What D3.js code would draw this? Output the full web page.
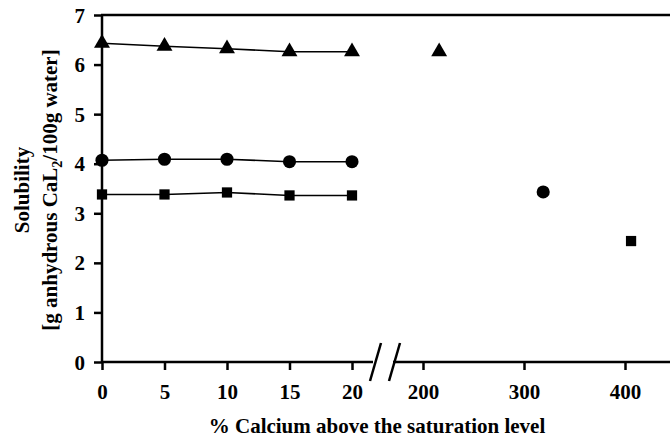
<!DOCTYPE html>
<html>
<head>
<meta charset="utf-8">
<script src="https://cdn.jsdelivr.net/npm/d3@7"></script>
<style>
  body { margin: 0; background: #fff; }
  text { font-family: "Liberation Serif", "Times New Roman", serif; font-weight: bold; fill: #000; }
</style>
</head>
<body>
<svg id="chart" width="670" height="440"></svg>
<script>
// low range of x (0-20 %), shown left of the axis break
var lowX = [0, 5, 10, 15, 20];
var triangleLow = [6.43, 6.37, 6.32, 6.26, 6.26];
var circleLow = [4.07, 4.09, 4.09, 4.04, 4.04];
var squareLow = [3.38, 3.38, 3.42, 3.36, 3.36];

// high range points, right of the break
var trianglesHigh = [{x: 216, y: 6.26}];
var circlesHigh = [{x: 319, y: 3.43}];
var squaresHigh = [{x: 406, y: 2.44}];

var lowTicks = [0, 5, 10, 15, 20];
var highTicks = [200, 300, 400];
var yTicks = [0, 1, 2, 3, 4, 5, 6, 7];

var svg = d3.select('#chart');

var yScale = d3.scaleLinear().domain([0, 7]).range([362, 15]);
var xLow = d3.scaleLinear().domain([0, 20]).range([102, 352]);
var xHigh = d3.scaleLinear().domain([200, 400]).range([423, 625]);

// top frame line
svg.append('line')
  .attr('x1', 101).attr('x2', 670)
  .attr('y1', yScale(7)).attr('y2', yScale(7))
  .attr('stroke', '#000').attr('stroke-width', 2.5);

// y axis
var yAxis = svg.append('g')
  .attr('transform', 'translate(102,0)')
  .call(d3.axisLeft(yScale).tickValues(yTicks).tickSize(8).tickPadding(9).tickFormat(d3.format('d')));
yAxis.select('.domain').attr('stroke-width', 2.5).attr('d', 'M0,' + yScale(0) + 'V' + yScale(7));
yAxis.selectAll('.tick line').attr('stroke-width', 2.5);
yAxis.selectAll('.tick text').style('font-size', '21px').attr('dy', '0.34em');

// x axis, low part
var xAxisLow = svg.append('g')
  .attr('transform', 'translate(0,' + yScale(0) + ')')
  .call(d3.axisBottom(xLow).tickValues(lowTicks).tickSize(8).tickPadding(14));
xAxisLow.select('.domain').attr('stroke-width', 2.5).attr('d', 'M' + xLow(0) + ',0H373');
xAxisLow.selectAll('.tick line').attr('stroke-width', 2.5);
xAxisLow.selectAll('.tick text').style('font-size', '21px');

// x axis, high part
var xAxisHigh = svg.append('g')
  .attr('transform', 'translate(0,' + yScale(0) + ')')
  .call(d3.axisBottom(xHigh).tickValues(highTicks).tickSize(8).tickPadding(14));
xAxisHigh.select('.domain').attr('stroke-width', 2.5).attr('d', 'M393,0H670');
xAxisHigh.selectAll('.tick line').attr('stroke-width', 2.5);
xAxisHigh.selectAll('.tick text').style('font-size', '21px');

// break marks
svg.selectAll('.brk')
  .data([370, 389])
  .enter().append('line')
  .attr('class', 'brk')
  .attr('x1', function(d) { return d; })
  .attr('y1', yScale(0) + 19)
  .attr('x2', function(d) { return d + 11; })
  .attr('y2', yScale(0) - 19)
  .attr('stroke', '#000').attr('stroke-width', 2.5);

// lines for the low range
var line = d3.line()
  .x(function(d, i) { return xLow(lowX[i]); })
  .y(function(d) { return yScale(d); });

[triangleLow, circleLow, squareLow].forEach(function(s) {
  svg.append('path')
    .attr('d', line(s))
    .attr('fill', 'none')
    .attr('stroke', '#000')
    .attr('stroke-width', 1.6);
});

function drawMarks(pts, type, size) {
  svg.selectAll(null)
    .data(pts)
    .enter().append('path')
    .attr('transform', function(d) { return 'translate(' + d.px + ',' + d.py + ')'; })
    .attr('d', d3.symbol().type(type).size(size))
    .attr('fill', '#000');
}

function lowPts(vals) {
  return vals.map(function(v, i) { return {px: xLow(lowX[i]), py: yScale(v)}; });
}
function highPts(pts) {
  return pts.map(function(d) { return {px: xHigh(d.x), py: yScale(d.y)}; });
}

drawMarks(lowPts(triangleLow).concat(highPts(trianglesHigh)), d3.symbolTriangle, 110);
drawMarks(lowPts(circleLow).concat(highPts(circlesHigh)), d3.symbolCircle, 135);
drawMarks(lowPts(squareLow).concat(highPts(squaresHigh)), d3.symbolSquare, 105);

// axis titles
svg.append('text')
  .attr('x', 377).attr('y', 433)
  .attr('text-anchor', 'middle')
  .style('font-size', '21px')
  .text('% Calcium above the saturation level');

var yt = svg.append('g').attr('transform', 'translate(0,190) rotate(-90)');
yt.append('text')
  .attr('x', 0).attr('y', 29)
  .attr('text-anchor', 'middle')
  .style('font-size', '21px')
  .text('Solubility');
var t2 = yt.append('text')
  .attr('x', 0).attr('y', 57)
  .attr('text-anchor', 'middle')
  .style('font-size', '21px');
t2.append('tspan').text('[g anhydrous CaL');
t2.append('tspan').attr('dy', 5).style('font-size', '14px').text('2');
t2.append('tspan').attr('dy', -5).text('/100g water]');
</script>
</body>
</html>
